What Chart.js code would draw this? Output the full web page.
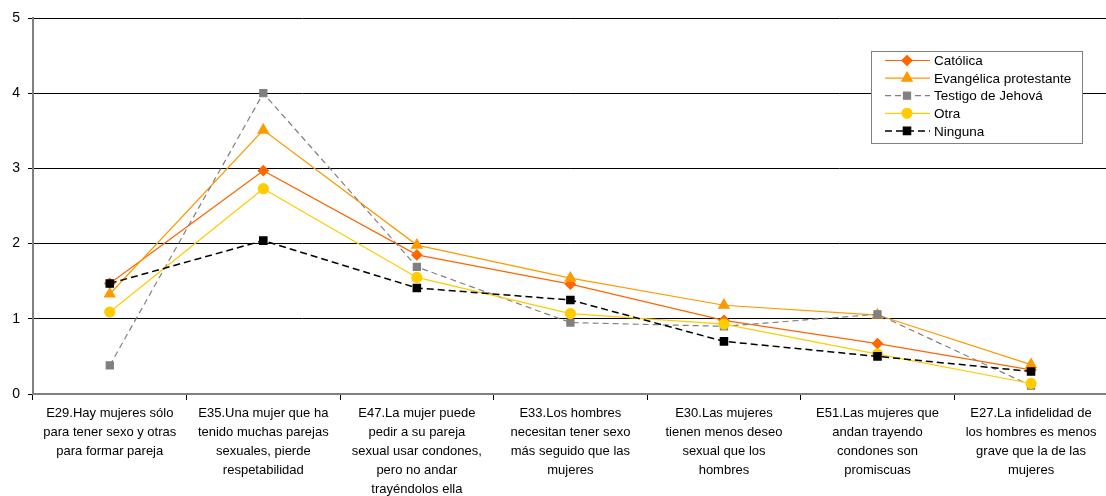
<!DOCTYPE html>
<html>
<head>
<meta charset="utf-8">
<script src="https://cdn.jsdelivr.net/npm/chart.js@4.4.1/dist/chart.umd.min.js"></script>
<style>
  html, body { margin: 0; padding: 0; background: #fff; overflow: hidden; }
  #wrap { position: relative; width: 1115px; height: 496px; }
</style>
</head>
<body>
<div id="wrap"><canvas id="chart"></canvas></div>
<script>
// categories (multi-line as in the original)
const categories = [
  ['E29.Hay mujeres sólo', 'para tener sexo y otras', 'para formar pareja'],
  ['E35.Una mujer que ha', 'tenido muchas parejas', 'sexuales, pierde', 'respetabilidad'],
  ['E47.La mujer puede', 'pedir a su pareja', 'sexual usar condones,', 'pero no andar', 'trayéndolos ella'],
  ['E33.Los hombres', 'necesitan tener sexo', 'más seguido que las', 'mujeres'],
  ['E30.Las mujeres', 'tienen menos deseo', 'sexual que los', 'hombres'],
  ['E51.Las mujeres que', 'andan trayendo', 'condones son', 'promiscuas'],
  ['E27.La infidelidad de', 'los hombres es menos', 'grave que la de las', 'mujeres']
];

const catolica   = [1.47, 2.97, 1.85, 1.46, 0.98, 0.67, 0.32];
const evangelica = [1.33, 3.51, 1.98, 1.54, 1.18, 1.05, 0.39];
const testigo    = [0.38, 4.00, 1.69, 0.95, 0.90, 1.06, 0.11];
const otra       = [1.09, 2.73, 1.55, 1.07, 0.93, 0.53, 0.14];
const ninguna    = [1.47, 2.04, 1.41, 1.25, 0.70, 0.50, 0.30];

const yTicks = [0, 1, 2, 3, 4, 5];

const FONT = "'Liberation Sans', Arial, sans-serif";

function series(label, data, color, style, radius, dash, width, order) {
  return {
    label, data,
    borderColor: color,
    backgroundColor: color,
    pointBackgroundColor: color,
    pointBorderColor: color,
    pointStyle: style,
    pointRadius: radius,
    pointHoverRadius: radius,
    borderWidth: width,
    borderDash: dash,
    tension: 0,
    order
  };
}

const datasets = [
  series('Católica', catolica, '#FF6600', 'rectRot', 5, [], 1.2, 5),
  series('Evangélica protestante', evangelica, '#FF9900', 'triangle', 6, [], 1.2, 4),
  series('Testigo de Jehová', testigo, '#808080', 'rect', 5, [6, 4], 1.2, 3),
  series('Otra', otra, '#FFCC00', 'circle', 5, [], 1.2, 2),
  series('Ninguna', ninguna, '#000000', 'rect', 5, [7, 4], 1.5, 1)
];

// legend box drawn inside the plot, like the original
const boxLegend = {
  id: 'boxLegend',
  afterDraw(chart) {
    const ctx = chart.ctx;
    const x = 871, y = 51, w = 211, h = 92;
    ctx.save();
    ctx.fillStyle = '#fff';
    ctx.fillRect(x, y, w, h);
    ctx.strokeStyle = '#808080';
    ctx.lineWidth = 1;
    ctx.strokeRect(x + 0.5, y + 0.5, w, h);
    ctx.font = '13.5px ' + FONT;
    ctx.textBaseline = 'middle';
    chart.data.datasets.forEach((ds, i) => {
      const cy = y + 9.5 + i * 17.6;
      ctx.strokeStyle = ds.borderColor;
      ctx.lineWidth = ds.borderWidth;
      ctx.setLineDash(ds.borderDash);
      ctx.beginPath();
      ctx.moveTo(885, cy);
      ctx.lineTo(930, cy);
      ctx.stroke();
      ctx.setLineDash([]);
      ctx.fillStyle = ds.backgroundColor;
      Chart.helpers.drawPoint(ctx, { pointStyle: ds.pointStyle, radius: ds.pointRadius, borderWidth: 1 }, 907, cy);
      ctx.fillStyle = '#000';
      ctx.fillText(ds.label, 934, cy + 1);
    });
    ctx.restore();
  }
};

new Chart(document.getElementById('chart'), {
  type: 'line',
  data: { labels: categories, datasets },
  options: {
    responsive: true,
    maintainAspectRatio: false,
    animation: false,
    layout: { padding: { top: 18, right: 0, left: 0, bottom: 0 } },
    plugins: {
      legend: { display: false },
      tooltip: { enabled: false }
    },
    scales: {
      x: {
        offset: true,
        grid: {
          offset: true,
          drawOnChartArea: false,
          drawTicks: true,
          tickLength: 6,
          color: '#000'
        },
        border: { color: '#808080', width: 2 },
        ticks: {
          maxRotation: 0,
          autoSkip: false,
          padding: 4,
          color: '#000',
          font: { family: FONT, size: 13, lineHeight: 1.46 }
        },
        afterFit(scale) { scale.height = 102; }
      },
      y: {
        min: 0,
        max: 5,
        afterBuildTicks(scale) { scale.ticks = yTicks.map(v => ({ value: v })); },
        grid: { color: '#000', lineWidth: 1, tickLength: 5 },
        border: { color: '#808080', width: 2 },
        ticks: {
          padding: 8,
          color: '#000',
          font: { family: FONT, size: 14 }
        },
        afterFit(scale) { scale.width = 33; }
      }
    }
  },
  plugins: [boxLegend]
});
</script>
</body>
</html>
